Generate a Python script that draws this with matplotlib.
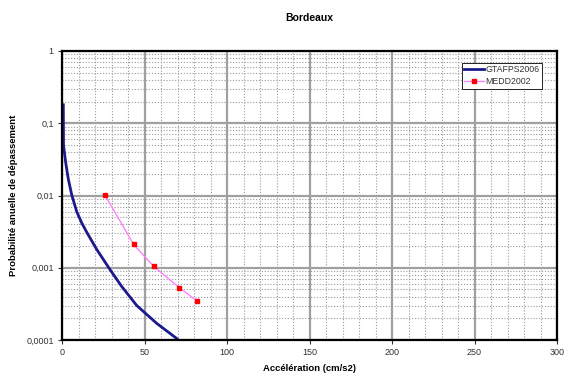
import matplotlib
matplotlib.use("Agg")
import matplotlib.pyplot as plt
from matplotlib.ticker import FixedLocator, FuncFormatter, LogLocator, NullFormatter, MultipleLocator

plt.rcParams['font.family'] = ['Liberation Sans', 'DejaVu Sans']

gtaf_x = [0.8, 0.9, 2.2, 3.8, 5.9, 8.9, 11.9, 15, 21, 29, 36.2, 45.3, 57.4, 69.5, 70.5]
gtaf_p = [0.18, 0.05, 0.029, 0.017, 0.0102, 0.0060, 0.0042, 0.0031, 0.0018, 0.00095,
          0.00055, 0.00030, 0.00017, 0.000105, 0.0001]
medd_x = [26, 43.4, 55.5, 71.1, 81.6]
medd_p = [0.0102, 0.0021, 0.00105, 0.00053, 0.00035]

fig = plt.figure(figsize=(5.66, 3.78), dpi=100)
ax = fig.add_axes([62/566, 1-340/378, (557-62)/566, (340-51)/378])

ax.set_yscale('log')
ax.set_xlim(0, 300)
ax.set_ylim(1e-4, 1)

ax.xaxis.set_major_locator(MultipleLocator(50))
ax.xaxis.set_minor_locator(MultipleLocator(10))
ax.yaxis.set_major_locator(FixedLocator([1e-4, 1e-3, 1e-2, 1e-1, 1]))
ax.yaxis.set_minor_locator(LogLocator(base=10, subs=range(2, 10)))
ax.yaxis.set_minor_formatter(NullFormatter())
ylabels = {1e-4: '0,0001', 1e-3: '0,001', 1e-2: '0,01', 1e-1: '0,1', 1: '1'}
ax.yaxis.set_major_formatter(FuncFormatter(lambda v, p: min(ylabels.items(), key=lambda kv: abs(kv[0]/v - 1))[1]))

ax.grid(which='major', color='#a0a0a0', linewidth=1.6, linestyle='-')
ax.grid(which='minor', color='#9a9a9a', linewidth=0.8, linestyle=(0, (1, 1.6)))
ax.set_axisbelow(True)

ax.tick_params(which='major', labelsize=6.5, colors='#333333', length=3, width=0.8,
               direction='out', pad=3)
ax.tick_params(which='minor', length=0)
for s in ax.spines.values():
    s.set_linewidth(1.6)
    s.set_color('black')

ax.plot(gtaf_x, gtaf_p, color='#1a1a8c', linewidth=2, label='GTAFPS2006')
ax.plot(medd_x, medd_p, color='#ff80ff', linewidth=1, marker='s', markersize=3,
        markerfacecolor='red', markeredgecolor='red', label='MEDD2002')

leg = ax.legend(loc='upper right', bbox_to_anchor=(0.97, 0.96), borderaxespad=0,
                fontsize=6.3, frameon=True,
                fancybox=False, edgecolor='black', framealpha=1, borderpad=0.3,
                handlelength=2.2, handletextpad=0.2, labelspacing=0.35)
leg.get_frame().set_linewidth(0.6)
for t in leg.get_texts():
    t.set_color('#333333')

fig.text(0.5 * (62 + 557) / 566, 1 - 18/378, 'Bordeaux', ha='center', va='center',
         fontsize=7.5, fontweight='bold')
ax.set_xlabel('Accélération (cm/s2)', fontsize=6.8, fontweight='bold', labelpad=5)
ax.set_ylabel('Probabilité anuelle de dépassement', fontsize=6.8, fontweight='bold', labelpad=6)

fig.savefig('out.png', dpi=100)
